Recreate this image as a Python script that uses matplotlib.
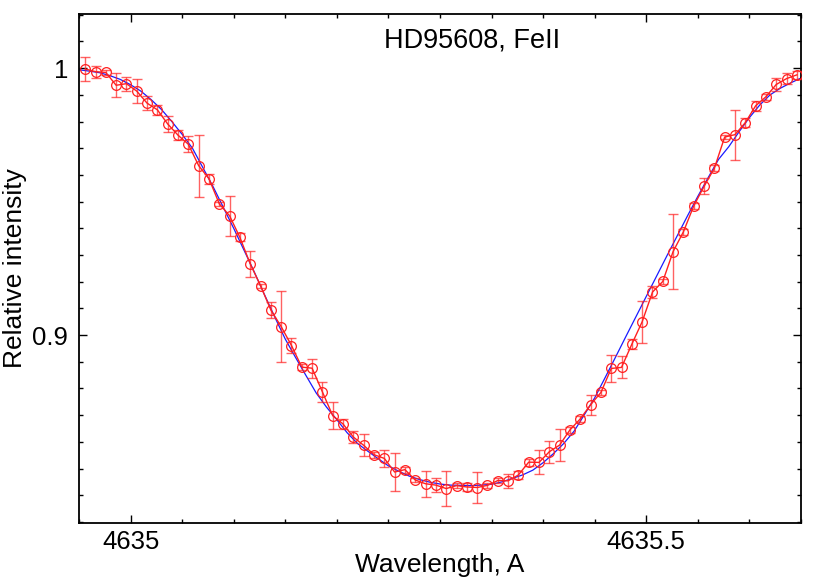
import numpy as np
import matplotlib.pyplot as plt
from matplotlib.ticker import MultipleLocator

plt.rcParams['font.family'] = ['Liberation Sans', 'DejaVu Sans']

# observed profile (red points), step 0.01 A
wl_start = 4634.956
obs_flux = [0.9997, 0.9987, 0.9984, 0.9936, 0.9942, 0.9914, 0.9869, 0.9844, 0.9791, 0.9749,
            0.9715, 0.9635, 0.9586, 0.9492, 0.9447, 0.9366, 0.9267, 0.9185, 0.9094, 0.9032,
            0.8961, 0.8880, 0.8876, 0.8787, 0.8698, 0.8667, 0.8618, 0.8587, 0.8552, 0.8538,
            0.8487, 0.8496, 0.8457, 0.8443, 0.8438, 0.8425, 0.8436, 0.8431, 0.8429, 0.8437,
            0.8455, 0.8454, 0.8476, 0.8524, 0.8523, 0.8563, 0.8588, 0.8645, 0.8686, 0.8739,
            0.8785, 0.8875, 0.8879, 0.8966, 0.9050, 0.9161, 0.9201, 0.9313, 0.9387, 0.9484,
            0.9557, 0.9625, 0.9742, 0.9751, 0.9796, 0.9859, 0.9893, 0.9939, 0.9961, 0.9975]
obs_err = [0.0044, 0.0022, 0.0009, 0.0045, 0.0026, 0.0045, 0.0026, 0.0019, 0.0030, 0.0019,
           0.0030, 0.0116, 0.0019, 0.0008, 0.0075, 0.0015, 0.0049, 0.0008, 0.0030, 0.0134,
           0.0028, 0.0011, 0.0036, 0.0037, 0.0051, 0.0019, 0.0022, 0.0041, 0.0011, 0.0033,
           0.0071, 0.0011, 0.0008, 0.0048, 0.0026, 0.0067, 0.0008, 0.0015, 0.0058, 0.0008,
           0.0011, 0.0026, 0.0015, 0.0013, 0.0045, 0.0041, 0.0060, 0.0011, 0.0011, 0.0037,
           0.0011, 0.0049, 0.0041, 0.0019, 0.0079, 0.0022, 0.0011, 0.0142, 0.0011, 0.0011,
           0.0030, 0.0011, 0.0008, 0.0094, 0.0017, 0.0019, 0.0011, 0.0026, 0.0022, 0.0015]

# model profile (blue line), step 0.01 A
model_start = 4634.95
model_flux = [0.9994, 0.9989, 0.9983, 0.9972, 0.9958, 0.9938, 0.9914, 0.9882, 0.9845, 0.9800,
              0.9752, 0.9700, 0.9628, 0.9556, 0.9478, 0.9400, 0.9318, 0.9236, 0.9150, 0.9066,
              0.8985, 0.8916, 0.8849, 0.8783, 0.8730, 0.8683, 0.8634, 0.8594, 0.8565, 0.8537,
              0.8510, 0.8490, 0.8472, 0.8459, 0.8449, 0.8442, 0.8438, 0.8437, 0.8436, 0.8438,
              0.8441, 0.8450, 0.8463, 0.8476, 0.8494, 0.8522, 0.8556, 0.8594, 0.8640, 0.8702,
              0.8765, 0.8840, 0.8916, 0.8993, 0.9069, 0.9145, 0.9221, 0.9297, 0.9372, 0.9447,
              0.9520, 0.9590, 0.9658, 0.9706, 0.9762, 0.9815, 0.9862, 0.9900, 0.9925, 0.9945,
              0.9963]

obs_wl = wl_start + 0.01 * np.arange(len(obs_flux))
model_wl = model_start + 0.01 * np.arange(len(model_flux))

fig = plt.figure(figsize=(8.3, 5.81), dpi=100)
ax = fig.add_axes([79 / 830, 58 / 581, 722 / 830, 509 / 581])

ax.plot(model_wl, model_flux, color='#1a1aff', lw=0.9, zorder=2)
ax.errorbar(obs_wl, obs_flux, yerr=obs_err, fmt='none', ecolor='#ff2020',
            elinewidth=1.0, capsize=3.5, capthick=1.0, alpha=0.7, zorder=3)
ax.plot(obs_wl, obs_flux, color='#ff2020', lw=1.0, marker='o', ms=7,
        mfc='none', mec='#ff2020', mew=0.9, zorder=4)

ax.set_xlim(4634.95, 4635.65)
ax.set_ylim(0.8296, 1.0203)
ax.xaxis.set_major_locator(MultipleLocator(0.5))
ax.xaxis.set_minor_locator(MultipleLocator(0.05))
ax.yaxis.set_major_locator(MultipleLocator(0.1))
ax.yaxis.set_minor_locator(MultipleLocator(0.01))
ax.xaxis.set_major_formatter(plt.FuncFormatter(lambda v, p: f'{v:g}'))
ax.yaxis.set_major_formatter(plt.FuncFormatter(lambda v, p: f'{v:g}'))

ax.tick_params(which='both', direction='in', top=True, right=True,
               labelsize=18.5, width=1.0)
ax.tick_params(which='major', length=6)
ax.tick_params(axis='x', which='major', pad=5)
ax.tick_params(axis='y', which='major', pad=8)
ax.tick_params(which='minor', length=3)
for s in ax.spines.values():
    s.set_linewidth(1.3)

ax.set_xlabel('Wavelength, A', fontsize=19)
ax.xaxis.set_label_coords(0.5, -0.058)
ax.set_ylabel('Relative intensity', fontsize=19)
ax.yaxis.set_label_coords(-0.072, 0.5)
ax.text(0.544, 0.947, 'HD95608, FeII', transform=ax.transAxes,
        ha='center', va='center', fontsize=19.5)

fig.savefig('out.png', dpi=100)
